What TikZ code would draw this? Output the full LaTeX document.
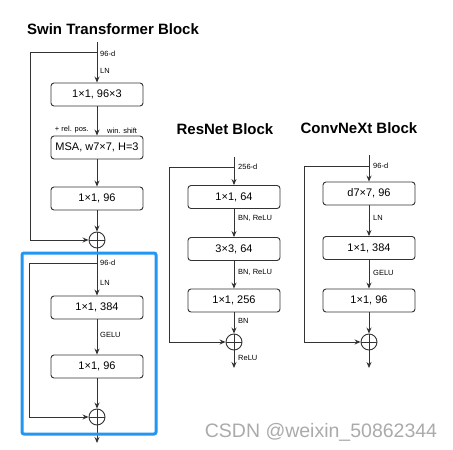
\documentclass[tikz,border=0pt]{standalone}
\usepackage{fontspec}
\setmainfont{Liberation Sans}
\usetikzlibrary{arrows.meta}
\definecolor{lc}{HTML}{333333}
\definecolor{hl}{HTML}{2196F3}
\begin{document}
\begin{tikzpicture}[x=1pt,y=-1pt,
  blk/.style={draw=lc,line width=0.9pt,rounded corners=3pt,minimum width=92pt,minimum height=23pt,inner sep=0pt,font=\fontsize{11}{13}\selectfont},
  pls/.style={draw=lc,line width=0.9pt,circle,minimum size=16pt,inner sep=0pt,
    path picture={\draw[lc,line width=0.9pt] (path picture bounding box.north)--(path picture bounding box.south) (path picture bounding box.west)--(path picture bounding box.east);}},
  arr/.style={draw=lc,line width=0.9pt,-{Stealth[length=6pt,width=5pt]}},
  ln/.style={draw=lc,line width=0.9pt},
  lab/.style={anchor=west,inner sep=0pt,font=\fontsize{7.5}{8}\selectfont},
  ttl/.style={inner sep=0pt,font=\fontsize{15}{17}\selectfont\bfseries}]
\useasboundingbox (0,0) rectangle (453,450);
\fill[white] (0,0) rectangle (453,450);

% ---------------- Swin ----------------
\node[ttl] (st) at (113,29) {Swin Transformer Block};
\coordinate (sin) at (97,42);
\coordinate (sbr) at (97,52);
\coordinate (sl1) at (30,52);
\node[blk] (s1) at (97,94.5) {1×1, 96×3};
\node[blk] (s2) at (97,147.5) {MSA, w7×7, H=3};
\node[blk] (s3) at (97,198.5) {1×1, 96};
\node[pls] (sp1) at (97,240) {};
\coordinate (sl2) at (30,240);
\draw[arr] (sin) -- (s1.north);
\draw[arr] (s1.south) -- (s2.north);
\draw[arr] (s2.south) -- (s3.north);
\draw[arr] (s3.south) -- (sp1.north);
\draw[ln] (sbr) -- (sl1) -- (sl2);
\draw[arr] (sl2) -- (sp1.west);
\node[lab] (sd1) at (100,54) {96-d};
\node[lab] (sln1) at (100,71) {LN};
\node[lab,anchor=east] (srp) at (89,130) {+ rel. pos.};
\node[lab] (sws) at (107,131) {win. shift};

\node[blk] (s4) at (97,307.5) {1×1, 384};
\node[blk] (s5) at (97,366.5) {1×1, 96};
\node[pls] (sp2) at (97,417) {};
\coordinate (sbr2) at (97,263);
\coordinate (sl3) at (29,263);
\coordinate (sl4) at (29,417);
\coordinate (sout) at (97,443);
\draw[arr] (sp1.south) -- (s4.north);
\draw[arr] (s4.south) -- (s5.north);
\draw[arr] (s5.south) -- (sp2.north);
\draw[arr] (sp2.south) -- (sout);
\draw[ln] (sbr2) -- (sl3) -- (sl4);
\draw[arr] (sl4) -- (sp2.west);
\node[lab] (sd2) at (100,263) {96-d};
\node[lab] (sln2) at (100,283) {LN};
\node[lab] (sge) at (100,335) {GELU};
\draw[hl,line width=3pt,rounded corners=2pt] (22,253) rectangle (156,434);

% ---------------- ResNet ----------------
\node[ttl] (rt) at (225,129) {ResNet Block};
\coordinate (rin) at (234,157);
\coordinate (rbr) at (234,167);
\coordinate (rl1) at (169,167);
\coordinate (rl2) at (169,342);
\node[blk] (r1) at (234,197) {1×1, 64};
\node[blk] (r2) at (234,249) {3×3, 64};
\node[blk] (r3) at (234,300.5) {1×1, 256};
\node[pls] (rp) at (234,342) {};
\coordinate (rout) at (234,368);
\draw[arr] (rin) -- (r1.north);
\draw[arr] (r1.south) -- (r2.north);
\draw[arr] (r2.south) -- (r3.north);
\draw[arr] (r3.south) -- (rp.north);
\draw[arr] (rp.south) -- (rout);
\draw[ln] (rbr) -- (rl1) -- (rl2);
\draw[arr] (rl2) -- (rp.west);
\node[lab] (rd) at (238,167) {256-d};
\node[lab] (rb1) at (238,218) {BN, ReLU};
\node[lab] (rb2) at (238,272) {BN, ReLU};
\node[lab] (rb3) at (238,321) {BN};
\node[lab] (rrl) at (238,358) {ReLU};

% ---------------- ConvNeXt ----------------
\node[ttl] (ct) at (359,128) {ConvNeXt Block};
\coordinate (cin) at (369,155);
\coordinate (cbr) at (369,166);
\coordinate (cl1) at (304,166);
\coordinate (cl2) at (304,342);
\node[blk] (c1) at (369,193.5) {d7×7, 96};
\node[blk] (c2) at (369,248) {1×1, 384};
\node[blk] (c3) at (369,300.5) {1×1, 96};
\node[pls] (cp) at (369,342) {};
\coordinate (cout) at (369,368);
\draw[arr] (cin) -- (c1.north);
\draw[arr] (c1.south) -- (c2.north);
\draw[arr] (c2.south) -- (c3.north);
\draw[arr] (c3.south) -- (cp.north);
\draw[arr] (cp.south) -- (cout);
\draw[ln] (cbr) -- (cl1) -- (cl2);
\draw[arr] (cl2) -- (cp.west);
\node[lab] (cd) at (373,166) {96-d};
\node[lab] (cln) at (373,218) {LN};
\node[lab] (cge) at (373,273) {GELU};

% watermark
\node[inner sep=0pt,text=black!33,font=\fontsize{19.5}{21}\selectfont] (wm) at (321,432) {CSDN @weixin\_50862344};
\end{tikzpicture}
\end{document}
